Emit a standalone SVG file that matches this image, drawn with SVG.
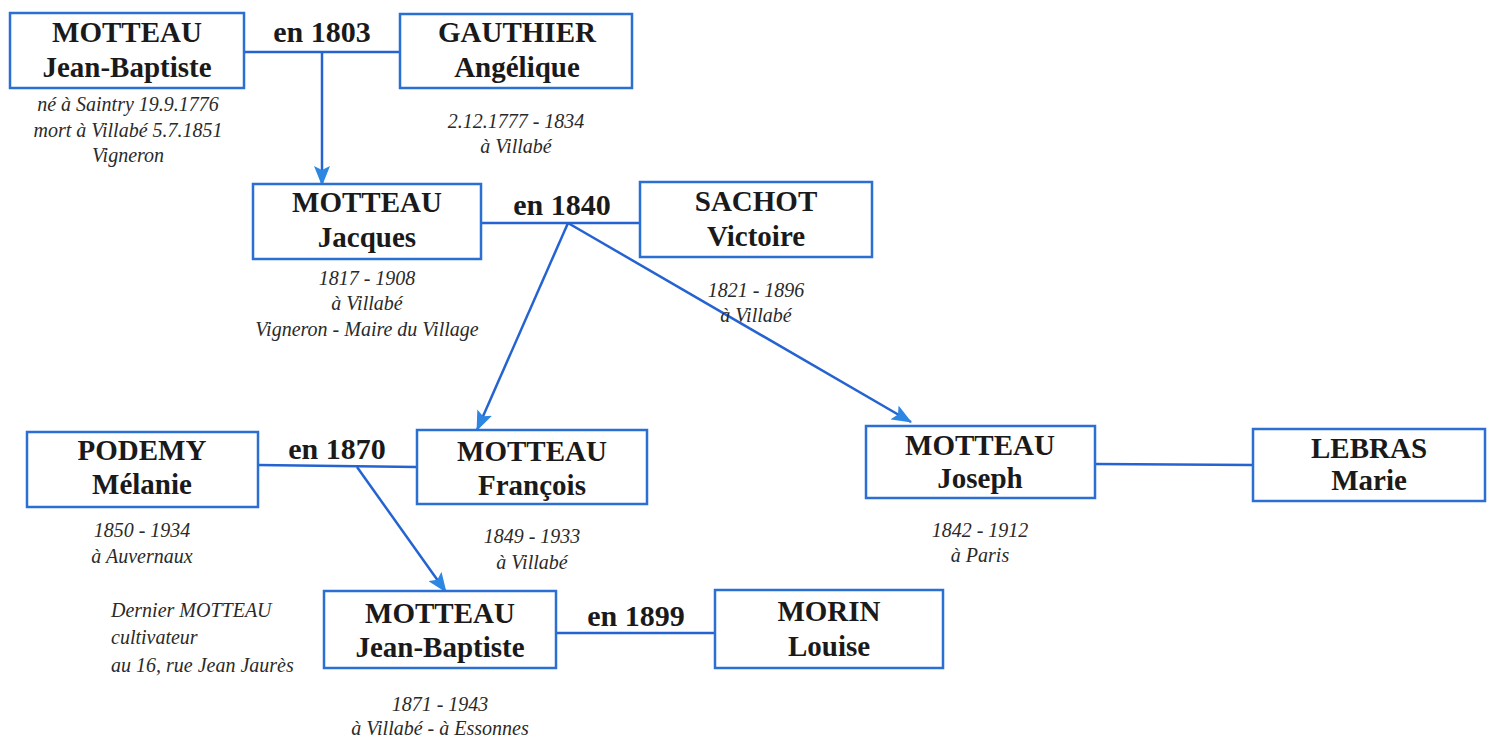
<svg xmlns="http://www.w3.org/2000/svg" width="1492" height="737" viewBox="0 0 1492 737">
<defs>
<style>
.box{fill:#fff;stroke:#2b6fd3;stroke-width:2.5}
.name{font-family:"Liberation Serif",serif;font-weight:bold;font-size:29px;fill:#1a1a1a;text-anchor:middle}
.yr{font-family:"Liberation Serif",serif;font-weight:bold;font-size:30px;fill:#1a1a1a;text-anchor:middle}
.info{font-family:"Liberation Serif",serif;font-style:italic;font-size:20px;fill:#2a2a2a;text-anchor:middle}
.infol{font-family:"Liberation Serif",serif;font-style:italic;font-size:20px;fill:#2a2a2a}
.ln{stroke:#2463d1;stroke-width:2.5;fill:none}
.ar{stroke:#2463d1;stroke-width:2.5;fill:none;marker-end:url(#ah)}
</style>
<marker id="ah" viewBox="0 0 20 16" refX="19" refY="8" markerWidth="20" markerHeight="16" markerUnits="userSpaceOnUse" orient="auto">
<path d="M0,0 L20,8 L0,16 L4,8 Z" fill="#2d86e2"/>
</marker>
</defs>
<rect width="1492" height="737" fill="#fff"/>
<g id="connectors">
<line class="ln" x1="244" y1="52" x2="400" y2="52"/>
<line class="ar" x1="322" y1="52" x2="322" y2="185"/>
<line class="ln" x1="481" y1="223" x2="640" y2="223"/>
<line class="ar" x1="568" y1="223" x2="477" y2="430"/>
<line class="ar" x1="568" y1="223" x2="911" y2="422"/>
<line class="ln" x1="258" y1="465" x2="417" y2="467"/>
<line class="ar" x1="357" y1="467" x2="446" y2="592"/>
<line class="ln" x1="1095" y1="464" x2="1253" y2="465"/>
<line class="ln" x1="556" y1="633" x2="715" y2="633"/>
</g>
<g id="labels">
<text class="yr" x="322" y="42">en 1803</text>
<text class="yr" x="562" y="215">en 1840</text>
<text class="yr" x="337" y="459">en 1870</text>
<text class="yr" x="636" y="626">en 1899</text>
</g>
<g id="n-jb1">
<rect class="box" x="10" y="13" width="234" height="75"/>
<text class="name" x="127" y="42">MOTTEAU</text>
<text class="name" x="127" y="77">Jean-Baptiste</text>
<text class="info" x="128" y="111">né à Saintry 19.9.1776</text>
<text class="info" x="128" y="137">mort à Villabé 5.7.1851</text>
<text class="info" x="128" y="162">Vigneron</text>
</g>
<g id="n-gauthier">
<rect class="box" x="400" y="14" width="232" height="74"/>
<text class="name" x="517" y="42">GAUTHIER</text>
<text class="name" x="517" y="77">Angélique</text>
<text class="info" x="516" y="128">2.12.1777 - 1834</text>
<text class="info" x="516" y="153">à Villabé</text>
</g>
<g id="n-jacques">
<rect class="box" x="253" y="184" width="228" height="75"/>
<text class="name" x="367" y="212">MOTTEAU</text>
<text class="name" x="367" y="247">Jacques</text>
<text class="info" x="367" y="285">1817 - 1908</text>
<text class="info" x="367" y="310">à Villabé</text>
<text class="info" x="367" y="336">Vigneron - Maire du Village</text>
</g>
<g id="n-sachot">
<rect class="box" x="640" y="182" width="232" height="75"/>
<text class="name" x="756" y="211">SACHOT</text>
<text class="name" x="756" y="246">Victoire</text>
<text class="info" x="756" y="297">1821 - 1896</text>
<text class="info" x="756" y="322">à Villabé</text>
</g>
<g id="n-podemy">
<rect class="box" x="27" y="432" width="231" height="75"/>
<text class="name" x="142" y="460">PODEMY</text>
<text class="name" x="142" y="494">Mélanie</text>
<text class="info" x="142" y="537">1850 - 1934</text>
<text class="info" x="142" y="563">à Auvernaux</text>
</g>
<g id="n-francois">
<rect class="box" x="417" y="430" width="230" height="74"/>
<text class="name" x="532" y="461">MOTTEAU</text>
<text class="name" x="532" y="495">François</text>
<text class="info" x="532" y="543">1849 - 1933</text>
<text class="info" x="532" y="569">à Villabé</text>
</g>
<g id="n-joseph">
<rect class="box" x="866" y="426" width="229" height="72"/>
<text class="name" x="980" y="455">MOTTEAU</text>
<text class="name" x="980" y="488">Joseph</text>
<text class="info" x="980" y="537">1842 - 1912</text>
<text class="info" x="980" y="562">à Paris</text>
</g>
<g id="n-lebras">
<rect class="box" x="1253" y="429" width="232" height="72"/>
<text class="name" x="1369" y="458">LEBRAS</text>
<text class="name" x="1369" y="490">Marie</text>
</g>
<g id="n-jb2">
<rect class="box" x="324" y="591" width="232" height="77"/>
<text class="name" x="440" y="623">MOTTEAU</text>
<text class="name" x="440" y="657">Jean-Baptiste</text>
<text class="info" x="440" y="711">1871 - 1943</text>
<text class="info" x="440" y="735">à Villabé - à Essonnes</text>
<text class="infol" x="111" y="617">Dernier MOTTEAU</text>
<text class="infol" x="111" y="644">cultivateur</text>
<text class="infol" x="111" y="672">au 16, rue Jean Jaurès</text>
</g>
<g id="n-morin">
<rect class="box" x="715" y="590" width="228" height="78"/>
<text class="name" x="829" y="621">MORIN</text>
<text class="name" x="829" y="656">Louise</text>
</g>
</svg>
